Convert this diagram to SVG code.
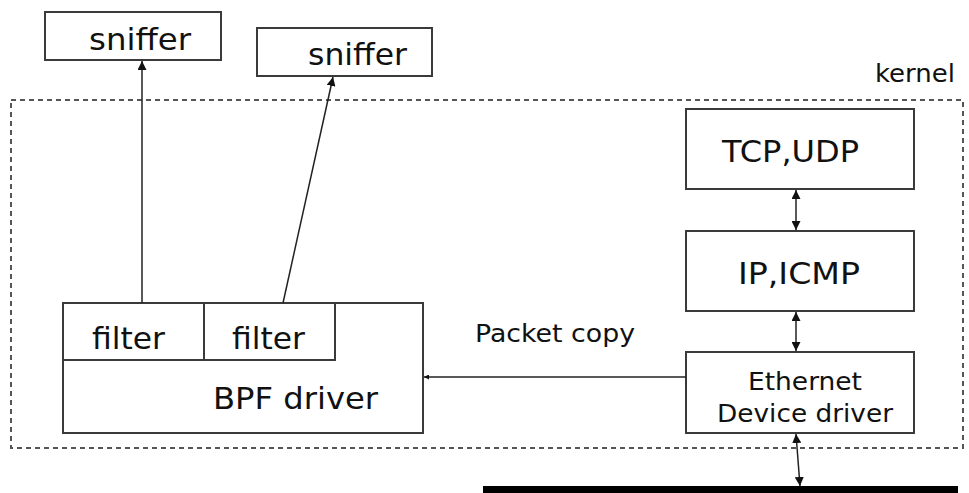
<svg xmlns="http://www.w3.org/2000/svg" width="969" height="493" viewBox="0 0 969 493">
<style>
.box{fill:#fff;stroke:#3a3a3a;stroke-width:2}
.t{font-family:"DejaVu Sans",Verdana,sans-serif;fill:#111}
.big{font-size:31px}
.mid{font-size:25.5px}
.ln{stroke:#222;stroke-width:1.5;fill:none}
</style>
<defs>
<marker id="ah" viewBox="0 0 10 10" refX="10" refY="5" markerWidth="9" markerHeight="9" markerUnits="userSpaceOnUse" orient="auto-start-reverse">
<path d="M0,0 L10,5 L0,10 z" fill="#111"/>
</marker>
<marker id="ahs" viewBox="0 0 10 10" refX="10" refY="5" markerWidth="6" markerHeight="5" markerUnits="userSpaceOnUse" orient="auto">
<path d="M0,0 L10,5 L0,10 z" fill="#111"/>
</marker>
</defs>
<rect width="969" height="493" fill="#fff"/>
<g id="kernel">
<rect x="11" y="100" width="952" height="348" fill="none" stroke="#555" stroke-width="2" stroke-dasharray="5,4"/>
<text class="t mid" x="875" y="82" textLength="80" lengthAdjust="spacingAndGlyphs">kernel</text>
</g>
<g id="sniffer1">
<rect class="box" x="45" y="12" width="176" height="48"/>
<text class="t big" x="89" y="50" textLength="102" lengthAdjust="spacingAndGlyphs">sniffer</text>
</g>
<g id="sniffer2">
<rect class="box" x="257" y="28" width="175" height="48"/>
<text class="t big" x="308" y="65" textLength="99" lengthAdjust="spacingAndGlyphs">sniffer</text>
</g>
<g id="bpf">
<rect class="box" x="63" y="303" width="360" height="130"/>
<text class="t big" x="213" y="409" textLength="165" lengthAdjust="spacingAndGlyphs">BPF driver</text>
</g>
<g id="filter1">
<rect class="box" x="63" y="303" width="141" height="57"/>
<text class="t big" x="92" y="349" textLength="73" lengthAdjust="spacingAndGlyphs">filter</text>
</g>
<g id="filter2">
<rect class="box" x="204" y="303" width="131" height="57"/>
<text class="t big" x="232" y="349" textLength="73" lengthAdjust="spacingAndGlyphs">filter</text>
</g>
<g id="tcp">
<rect class="box" x="686" y="109" width="228" height="80"/>
<text class="t big" x="722" y="162" textLength="137" lengthAdjust="spacingAndGlyphs">TCP,UDP</text>
</g>
<g id="ip">
<rect class="box" x="686" y="231" width="228" height="80"/>
<text class="t big" x="738" y="284" textLength="122" lengthAdjust="spacingAndGlyphs">IP,ICMP</text>
</g>
<g id="eth">
<rect class="box" x="686" y="352" width="228" height="81"/>
<text class="t mid" x="748" y="390" textLength="114" lengthAdjust="spacingAndGlyphs">Ethernet</text>
<text class="t mid" x="717" y="422" textLength="176" lengthAdjust="spacingAndGlyphs">Device driver</text>
</g>
<g id="wire">
<rect x="483" y="486" width="475" height="7" fill="#000"/>
</g>
<g id="connectors">
<line class="ln" x1="142" y1="303" x2="142" y2="61" marker-end="url(#ah)"/>
<line class="ln" x1="283" y1="303" x2="333" y2="77" marker-end="url(#ah)"/>
<line class="ln" x1="796" y1="190" x2="796" y2="230" marker-start="url(#ah)" marker-end="url(#ah)"/>
<line class="ln" x1="796" y1="312" x2="796" y2="351" marker-start="url(#ah)" marker-end="url(#ah)"/>
<line class="ln" x1="796" y1="434" x2="800" y2="486" marker-start="url(#ah)" marker-end="url(#ah)"/>
<line class="ln" x1="686" y1="377" x2="424" y2="377" marker-end="url(#ahs)"/>
<text class="t mid" x="475" y="342" textLength="160" lengthAdjust="spacingAndGlyphs">Packet copy</text>
</g>
</svg>
